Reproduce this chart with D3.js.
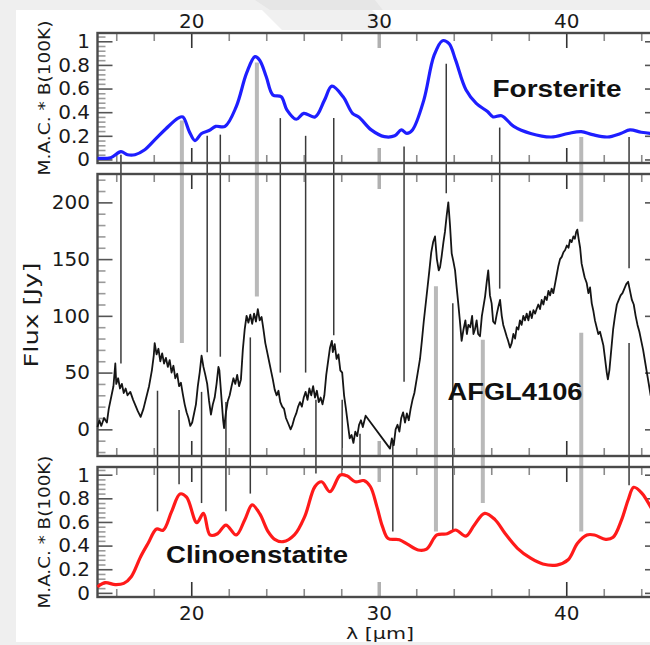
<!DOCTYPE html>
<html><head><meta charset="utf-8">
<script src="https://cdn.jsdelivr.net/npm/d3@7"></script>
<style>html,body{margin:0;padding:0;background:#fff;} svg{display:block}</style>
</head><body><svg id="c" width="650" height="645"></svg>
<script>
// ---------------- data ----------------
const xMajorTicks = [20, 30, 40];
const xMinorTicks = [16, 18, 22, 24, 26, 28, 32, 34, 36, 38, 42, 44];
const macTicks = [0, 0.2, 0.4, 0.6, 0.8, 1];
const macTickLabels = ["0", "0.2", "0.4", "0.6", "0.8", "1"];
const fluxTicks = [0, 50, 100, 150, 200];
const fluxTickLabels = ["0", "50", "100", "150", "200"];

const forsteriteWave = [15.0,15.7,16.25,16.6,17.0,17.5,18.05,18.65,19.3,19.55,19.9,20.2,20.55,20.95,21.3,21.8,22.4,22.95,23.4,23.65,24.0,24.35,24.8,25.1,25.6,26.0,26.6,27.1,27.5,28.1,28.6,28.95,29.6,30.3,30.85,31.2,31.5,31.8,32.4,32.95,33.4,33.75,34.1,34.65,35.2,35.8,36.1,36.55,37.2,38.1,39.2,40.1,40.8,41.4,42.2,42.9,43.4,44.0,44.6,45.0];
const forsteriteMAC = [0.01,0.015,0.066,0.04,0.04,0.08,0.165,0.26,0.35,0.36,0.235,0.16,0.22,0.245,0.28,0.28,0.447,0.73,0.87,0.84,0.70,0.546,0.53,0.42,0.34,0.39,0.36,0.50,0.62,0.53,0.39,0.357,0.25,0.193,0.20,0.25,0.22,0.25,0.50,0.88,1.005,0.98,0.84,0.59,0.475,0.405,0.36,0.37,0.28,0.22,0.19,0.22,0.235,0.21,0.19,0.22,0.25,0.23,0.22,0.22];

// AFGL4106 spectrum: [wavelength (micron), flux (Jy)]
const afglSpectrum = [
[15.0,2],[15.1,8],[15.2,3],[15.35,10],[15.5,6],[15.6,18],[15.75,30],[15.85,38],[15.95,58],[16.0,40],[16.1,45],[16.2,36],[16.3,40],[16.4,32],[16.5,36],[16.6,30],[16.75,33],[16.9,26],[17.0,22],[17.15,16],[17.3,11],[17.45,18],[17.6,28],[17.75,38],[17.9,52],[18.0,65],[18.05,76],[18.15,66],[18.25,71],[18.35,60],[18.45,67],[18.55,58],[18.65,63],[18.75,55],[18.85,61],[18.95,50],[19.05,56],[19.15,45],[19.25,49],[19.35,38],[19.45,41],[19.55,31],[19.65,22],[19.75,15],[19.85,10],[19.95,3],[20.05,6],[20.15,14],[20.25,22],[20.35,38],[20.45,50],[20.55,65],[20.65,55],[20.75,48],[20.85,40],[20.95,25],[21.05,13],[21.15,22],[21.25,28],[21.35,40],[21.45,55],[21.5,52],[21.6,30],[21.7,8],[21.75,1],[21.85,15],[21.95,25],[22.05,30],[22.15,38],[22.25,45],[22.35,40],[22.45,48],[22.55,38],[22.65,44],[22.75,70],[22.85,88],[22.95,100],[23.05,94],[23.15,101],[23.25,93],[23.35,102],[23.45,95],[23.55,106],[23.65,96],[23.75,99],[23.85,88],[23.95,76],[24.05,68],[24.15,60],[24.25,52],[24.35,44],[24.45,35],[24.55,30],[24.65,34],[24.75,24],[24.85,20],[24.95,18],[25.05,10],[25.15,6],[25.3,0],[25.4,4],[25.5,10],[25.6,14],[25.7,20],[25.8,24],[25.9,20],[26.0,28],[26.1,33],[26.2,26],[26.3,36],[26.4,30],[26.5,38],[26.6,28],[26.7,34],[26.8,24],[26.9,28],[27.0,22],[27.1,30],[27.2,48],[27.3,60],[27.4,72],[27.5,78],[27.55,68],[27.65,75],[27.75,62],[27.85,66],[27.95,52],[28.05,50],[28.15,30],[28.25,18],[28.35,5],[28.45,-8],[28.55,-5],[28.65,-12],[28.75,-2],[28.85,-6],[28.95,4],[29.05,8],[29.15,2],[29.3,12],[30.6,-17],[30.7,-8],[30.8,-14],[30.9,0],[31.0,4],[31.1,-2],[31.2,10],[31.3,15],[31.4,6],[31.5,14],[31.6,8],[31.7,18],[31.8,26],[31.9,32],[32.0,42],[32.1,52],[32.2,62],[32.3,78],[32.4,95],[32.5,110],[32.6,125],[32.7,140],[32.8,156],[32.9,165],[33.0,170],[33.1,150],[33.2,140],[33.27,143],
[33.35,152],[33.45,165],[33.53,174],[33.62,188],[33.71,200],[33.8,180],[33.89,155],[33.98,148],[34.07,140],[34.15,126],[34.24,111],[34.33,95],[34.42,78],[34.52,88],[34.62,96],[34.7,84],[34.78,92],[34.88,90],[34.98,100],[35.05,84],[35.13,88],[35.22,96],[35.3,84],[35.4,82],[35.5,100],[35.58,108],[35.67,117],[35.76,130],[35.84,140],[35.93,118],[36.02,111],[36.1,95],[36.2,93],[36.3,102],[36.38,108],[36.47,114],[36.56,100],[36.64,92],[36.73,87],[36.82,82],[36.9,78],[37.0,72],[37.09,76],[37.18,84],[37.27,80],[37.36,90],[37.45,88],[37.53,96],[37.62,92],[37.71,100],[37.8,96],[37.89,102],[37.98,96],[38.07,104],[38.16,98],[38.25,105],[38.34,102],[38.42,106],[38.51,110],[38.6,106],[38.69,114],[38.78,110],[38.87,117],[38.96,114],[39.05,122],[39.14,118],[39.22,124],[39.31,120],[39.4,128],[39.49,136],[39.58,144],[39.67,150],[39.76,152],[39.85,156],[39.94,158],[40.03,162],[40.12,160],[40.2,167],[40.29,165],[40.38,170],[40.46,168],[40.53,174],[40.59,176],[40.66,168],[40.74,160],[40.82,146],[40.9,140],[40.98,134],[41.09,129],[41.18,120],[41.27,125],[41.36,111],[41.45,104],[41.53,96],[41.62,90],[41.71,84],[41.8,86],[41.89,80],[41.98,74],[42.07,62],[42.16,50],[42.22,44],[42.3,52],[42.4,70],[42.5,88],[42.6,100],[42.7,110],[42.8,114],[42.9,118],[43.0,120],[43.1,124],[43.2,128],[43.3,130],[43.4,122],[43.5,114],[43.6,110],[43.7,100],[43.8,92],[43.9,86],[44.0,78],[44.1,70],[44.2,60],[44.3,50],[44.4,40],[44.5,30],[44.6,26]
];

const clinoWave = [15.0,15.4,15.95,16.4,16.8,17.3,17.7,18.15,18.5,18.95,19.4,19.75,20.3,20.65,21.0,21.4,21.85,22.4,22.85,23.25,23.65,24.1,24.45,24.9,25.5,26.05,26.6,26.95,27.4,27.95,28.3,28.75,29.2,29.55,29.9,30.2,30.5,31.1,31.55,32.1,32.55,33.1,33.65,34.1,34.65,35.1,35.65,36.2,36.75,37.4,38.1,38.75,39.5,40.1,40.6,41.1,41.5,42.1,42.5,42.95,43.3,43.6,44.05,44.6,45.0];
const clinoMAC = [0.05,0.086,0.07,0.08,0.137,0.306,0.42,0.54,0.53,0.687,0.837,0.81,0.594,0.673,0.49,0.5,0.574,0.49,0.617,0.744,0.67,0.518,0.453,0.433,0.49,0.645,0.90,0.94,0.856,0.997,0.99,0.94,0.95,0.9,0.73,0.56,0.46,0.45,0.41,0.363,0.37,0.49,0.5,0.532,0.48,0.575,0.673,0.62,0.5,0.377,0.293,0.244,0.235,0.28,0.42,0.49,0.49,0.453,0.47,0.617,0.786,0.893,0.84,0.70,0.6];

// forsterite feature markers (from top panel down into AFGL panel)
const fLineWave   = [16.25,19.5,20.85,21.55,23.5,24.75,26.1,27.6,31.35,33.6,36.45,40.8,43.35];
const fLineStrong = [false,true,false,false,true,false,false,false,false,false,false,true,false];
const fLineMacEnd = [0.04,0.33,0.2,0.21,0.82,0.35,0.2,0.35,0.11,0.81,0.27,0.19,0.19];
const fLineFluxEnd= [58,76,68,64,117,50,50,83,42,208,124,183,142];

// clinoenstatite feature markers (from bottom panel up into AFGL panel)
const cLineWave   = [18.2,19.35,20.55,21.85,23.15,26.65,28.05,29.0,30.75,33.05,33.95,35.55,40.8,43.35];
const cLineStrong = [false,false,false,false,false,false,false,false,false,true,false,true,true,false];
const cLineMacEnd = [0.69,0.92,0.76,0.69,0.84,1.01,1.04,1.0,0.52,0.52,0.52,0.76,0.52,0.91];
const cLineFluxEnd= [34,17,33,24,81,26,26,-4,-12,126,111,79,85,76];

// ---------------- drawing ----------------
const svg = d3.select("#c");
svg.append("rect").attr("width",650).attr("height",645).attr("fill","#efefef");
svg.append("polygon").attr("points","255,0 375,0 398,30 300,30").attr("fill","#e6e6e6");
svg.append("rect").attr("x",16).attr("y",10).attr("width",634).attr("height",632).attr("fill","#fff");
svg.append("polygon").attr("points","262,10 372,10 392,30 282,30").attr("fill","#f0f0f0");

const FONT = "'DejaVu Sans', sans-serif";
const x = d3.scaleLinear().domain([15,45]).range([97.5,660]);
const yTop = d3.scaleLinear().domain([-0.03,1.07]).range([163,33]);
const yMid = d3.scaleLinear().domain([-23.5,225]).range([456,174]);
const yBot = d3.scaleLinear().domain([-0.035,1.065]).range([597,467]);

const macMinor = d3.range(0.04, 1.06, 0.04).filter(v => Math.abs(v/0.2 - Math.round(v/0.2)) > 1e-6);
const fluxMinor = d3.range(-20, 221, 10).filter(v => v % 50 !== 0);

// feature lines (under curves)
const lines = svg.append("g");
fLineWave.forEach((w,i) => {
  lines.append("line")
    .attr("x1", x(w)).attr("x2", x(w))
    .attr("y1", yTop(fLineMacEnd[i])).attr("y2", yMid(fLineFluxEnd[i]))
    .attr("stroke", fLineStrong[i] ? "#b9b9b9" : "#3a3a3a")
    .attr("stroke-width", fLineStrong[i] ? 4 : 1.5);
});
cLineWave.forEach((w,i) => {
  lines.append("line")
    .attr("x1", x(w)).attr("x2", x(w))
    .attr("y1", yBot(cLineMacEnd[i])).attr("y2", yMid(cLineFluxEnd[i]))
    .attr("stroke", cLineStrong[i] ? "#b9b9b9" : "#3a3a3a")
    .attr("stroke-width", cLineStrong[i] ? 4 : 1.5);
});

function styleAxis(g, color, width) {
  g.select(".domain").remove();
  g.selectAll(".tick line").attr("stroke", color).attr("stroke-width", width);
  g.selectAll(".tick text").attr("font-family", FONT).attr("font-size", 20).attr("fill", "#1a1a1a");
}

function panel(y, yMajor, yMajorLabels, yMinor, top0, bot0, topLabels, botLabels) {
  const g = svg.append("g");
  const axT = g.append("g").attr("transform", `translate(0,${top0})`)
    .call(d3.axisTop(x).tickValues(xMajorTicks).tickSizeInner(-15).tickSizeOuter(0).tickPadding(5)
      .tickFormat(topLabels ? d3.format("d") : ""));
  styleAxis(axT, "#333", 1.6);
  const axTm = g.append("g").attr("transform", `translate(0,${top0})`)
    .call(d3.axisTop(x).tickValues(xMinorTicks).tickSizeInner(-8).tickSizeOuter(0).tickFormat(""));
  styleAxis(axTm, "#8a8a8a", 1.6);
  const axB = g.append("g").attr("transform", `translate(0,${bot0})`)
    .call(d3.axisBottom(x).tickValues(xMajorTicks).tickSizeInner(-15).tickSizeOuter(0).tickPadding(9)
      .tickFormat(botLabels ? d3.format("d") : ""));
  styleAxis(axB, "#333", 1.6);
  const axBm = g.append("g").attr("transform", `translate(0,${bot0})`)
    .call(d3.axisBottom(x).tickValues(xMinorTicks).tickSizeInner(-8).tickSizeOuter(0).tickFormat(""));
  styleAxis(axBm, "#8a8a8a", 1.6);
  [axT, axB].forEach(a => a.selectAll(".tick").filter(d => d === 30).select("line")
    .attr("stroke", "#b0b0b0").attr("stroke-width", 3.5));
  const axL = g.append("g").attr("transform", `translate(${x(15)},0)`)
    .call(d3.axisLeft(y).tickValues(yMajor).tickSizeInner(-15).tickSizeOuter(0).tickPadding(7.5)
      .tickFormat((d,i) => yMajorLabels[i]));
  styleAxis(axL, "#555", 1.6);
  const axLm = g.append("g").attr("transform", `translate(${x(15)},0)`)
    .call(d3.axisLeft(y).tickValues(yMinor).tickSizeInner(-8).tickSizeOuter(0).tickFormat(""));
  styleAxis(axLm, "#9a9a9a", 1.6);
  const axR = g.append("g").attr("transform", `translate(${x(45)},0)`)
    .call(d3.axisRight(y).tickValues(yMajor).tickSizeInner(-15).tickSizeOuter(0).tickFormat(""));
  styleAxis(axR, "#555", 1.6);
  const axRm = g.append("g").attr("transform", `translate(${x(45)},0)`)
    .call(d3.axisRight(y).tickValues(yMinor).tickSizeInner(-8).tickSizeOuter(0).tickFormat(""));
  styleAxis(axRm, "#9a9a9a", 1.6);
  g.append("rect").attr("x", x(15)).attr("y", top0).attr("width", x(45)-x(15)).attr("height", bot0-top0)
    .attr("fill", "none").attr("stroke", "#4a4a4a").attr("stroke-width", 2.4);
  return g;
}

panel(yTop, macTicks, macTickLabels, macMinor, 33, 163, true, false);
panel(yMid, fluxTicks, fluxTickLabels, fluxMinor, 174, 456, false, false);
panel(yBot, macTicks, macTickLabels, macMinor, 467, 597, false, true);

// curves
const fLine = d3.line().x((d,i) => x(forsteriteWave[i])).y(d => yTop(d)).curve(d3.curveCatmullRom.alpha(0.5));
svg.append("path").datum(forsteriteMAC).attr("d", fLine)
  .attr("fill","none").attr("stroke","#1e1eff").attr("stroke-width",3.2).attr("stroke-linejoin","round");

const aLine = d3.line().x(d => x(d[0])).y(d => yMid(d[1]));
svg.append("path").datum(afglSpectrum).attr("d", aLine)
  .attr("fill","none").attr("stroke","#151515").attr("stroke-width",1.8).attr("stroke-linejoin","round");

const cLine = d3.line().x((d,i) => x(clinoWave[i])).y(d => yBot(d)).curve(d3.curveCatmullRom.alpha(0.5));
svg.append("path").datum(clinoMAC).attr("d", cLine)
  .attr("fill","none").attr("stroke","#ff1a1a").attr("stroke-width",3.2).attr("stroke-linejoin","round");

// labels
const BOLD = "'Liberation Sans', Arial, sans-serif";
svg.append("text").attr("x",557).attr("y",97).attr("text-anchor","middle")
  .attr("font-family",BOLD).attr("font-weight","bold").attr("font-size",23)
  .attr("textLength",129).attr("lengthAdjust","spacingAndGlyphs").attr("fill","#111").text("Forsterite");
svg.append("text").attr("x",515).attr("y",400).attr("text-anchor","middle")
  .attr("font-family",BOLD).attr("font-weight","bold").attr("font-size",24)
  .attr("textLength",135).attr("lengthAdjust","spacingAndGlyphs").attr("fill","#111").text("AFGL4106");
svg.append("text").attr("x",257).attr("y",563).attr("text-anchor","middle")
  .attr("font-family",BOLD).attr("font-weight","bold").attr("font-size",23)
  .attr("textLength",182).attr("lengthAdjust","spacingAndGlyphs").attr("fill","#111").text("Clinoenstatite");

function vlabel(txt, cx, cy, size, len) {
  svg.append("text").attr("transform", `translate(${cx},${cy}) rotate(-90)`)
    .attr("text-anchor","middle").attr("font-family",FONT).attr("font-size",size)
    .attr("textLength",len).attr("lengthAdjust","spacingAndGlyphs").attr("fill","#1a1a1a").text(txt);
}
vlabel("M.A.C. * B(100K)", 50, 98, 15, 155);
vlabel("M.A.C. * B(100K)", 50, 532, 15, 153);
vlabel("Flux  [Jy]", 38, 315, 20, 105);

svg.append("text").attr("x",380).attr("y",639).attr("text-anchor","middle")
  .attr("font-family",FONT).attr("font-size",15.5)
  .attr("textLength",68).attr("lengthAdjust","spacingAndGlyphs").attr("fill","#1a1a1a").text("λ [µm]");
</script></body></html>
